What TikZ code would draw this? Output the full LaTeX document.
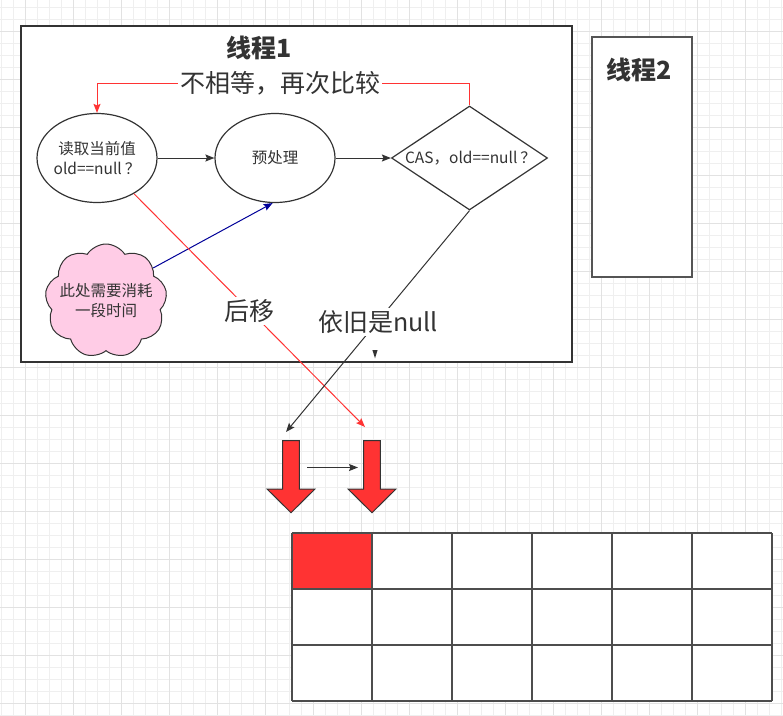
\documentclass[tikz,border=0pt]{standalone}
\usepackage{fontspec}
\setmainfont{Noto Sans CJK SC}
\usetikzlibrary{shapes.geometric,shapes.symbols,arrows.meta}
\definecolor{ink}{HTML}{333333}
\definecolor{gridminor}{HTML}{EFEFEF}
\definecolor{gridmajor}{HTML}{E2E2E2}
\definecolor{arrred}{HTML}{FF3333}
\definecolor{cloudpink}{HTML}{FFCCE6}
\definecolor{navy}{HTML}{000099}
\definecolor{tblline}{HTML}{4D4D4D}
\definecolor{boxline}{HTML}{555555}
\begin{document}
\begin{tikzpicture}[x=1pt,y=-1pt,
  txt/.style={text=ink, inner sep=0pt, align=center, font=\fontsize{15.5}{20}\selectfont},
  bigtxt/.style={text=ink, inner sep=2pt, fill=white, font=\fontsize{25}{30}\selectfont},
  titletxt/.style={text=ink, inner sep=0pt, font=\fontsize{25}{30}\selectfont\bfseries},
  ell/.style={ellipse, draw=ink, line width=1.2pt, fill=white, minimum width=120pt, minimum height=89pt, inner sep=0pt},
  tip/.style={-{Stealth[length=9pt,width=7pt,inset=1.5pt]}},
  conn/.style={draw=ink, line width=1pt, tip},
  redconn/.style={draw=arrred, line width=1pt},
  blueconn/.style={draw=navy, line width=1pt, tip},
  blockdown/.pic={\draw[fill=arrred, draw=ink, line width=1pt, line join=miter]
     (-8.3,0) -- (8.3,0) -- (8.3,48.3) -- (24,48.3) -- (0,72) -- (-24,48.3) -- (-8.3,48.3) -- cycle;}
]
\useasboundingbox (0,0) rectangle (783,715);
% background grid
\foreach \i in {0,...,65} \draw[gridminor, line width=1pt] ({1.3+12*\i},0) -- ({1.3+12*\i},715);
\foreach \i in {0,...,59} \draw[gridminor, line width=1pt] (0,{7.3+12*\i}) -- (783,{7.3+12*\i});
\foreach \i in {0,...,16} \draw[gridmajor, line width=1pt] ({25.3+48*\i},0) -- ({25.3+48*\i},715);
\foreach \i in {0,...,14} \draw[gridmajor, line width=1pt] (0,{31.3+48*\i}) -- (783,{31.3+48*\i});

% thread containers
\node[draw=ink, line width=2pt, fill=white, minimum width=551pt, minimum height=336pt, inner sep=0pt] (th1) at (296.5,194) {};
\node[draw=boxline, line width=2pt, fill=white, minimum width=100pt, minimum height=240pt, inner sep=0pt] (th2) at (642,156.5) {};
\node[titletxt] (t1title) at (259,48) {线程1};
\node[titletxt] (t2title) at (639.5,70) {线程2};

% flow nodes
\node[ell] (e1) at (97,158) {};
\node[txt] (e1t) at (e1.center) {读取当前值\\old==null\hspace{3pt}？};
\node[ell] (e2) at (275,158) {};
\node[txt] (e2t) at (e2.center) {预处理};
\node[diamond, draw=ink, line width=1.2pt, fill=white, minimum width=156pt, minimum height=104pt, inner sep=0pt] (d) at (469.5,158) {};
\node[txt] (dt) at ([xshift=1pt]d.center) {CAS，old==null\hspace{3pt}？};
\node[cloud, cloud puffs=9, cloud puff arc=115, aspect=1.05, draw=ink, line width=1pt, fill=cloudpink,
      minimum width=122pt, minimum height=114pt, inner sep=0pt] (cl) at (106,301) {};
\node[txt] (clt) at (cl.center) {此处需要消耗\\一段时间};

\draw[conn] (e1.east) -- (e2.west);
\draw[conn] (e2.east) -- (d.west);
\draw[blueconn] (cl.35) -- (e2.-93);

% loop back
\node[bigtxt, fill=none, inner sep=2pt] (loop) at (280,83) {不相等，再次比较};
\draw[redconn] (d.north) |- (loop.east);
\draw[redconn, tip] (loop.west) -| (e1.north);

% arrows out of thread 1
\coordinate (redend) at (365,427);
\coordinate (blkend) at (286,432);
\draw[redconn, tip] (e1.-44) -- (redend);
\draw[conn] (d.south) -- (blkend);
\node[bigtxt] (moved) at (249,311) {后移};
\node[bigtxt] (still) at (378,322) {依旧是null};
\fill[ink] (372.4,350) -- (377.6,350) -- (375,358.3) -- cycle;

% block arrows
\pic at (291,440.7) {blockdown};
\pic at (372,440.7) {blockdown};
\coordinate (sa) at (307,467.5);
\coordinate (sb) at (358,467.5);
\draw[conn] (sa) -- (sb);

% table
\fill[white] (292,533) rectangle (772,701);
\fill[arrred] (292,533) rectangle (372,589);
\foreach \c in {0,...,6} \draw[tblline, line width=1.5pt] ({292+80*\c},533) -- ({292+80*\c},701);
\foreach \r in {0,...,3} \draw[tblline, line width=1.5pt] (292,{533+56*\r}) -- (772,{533+56*\r});
\end{tikzpicture}
\end{document}
